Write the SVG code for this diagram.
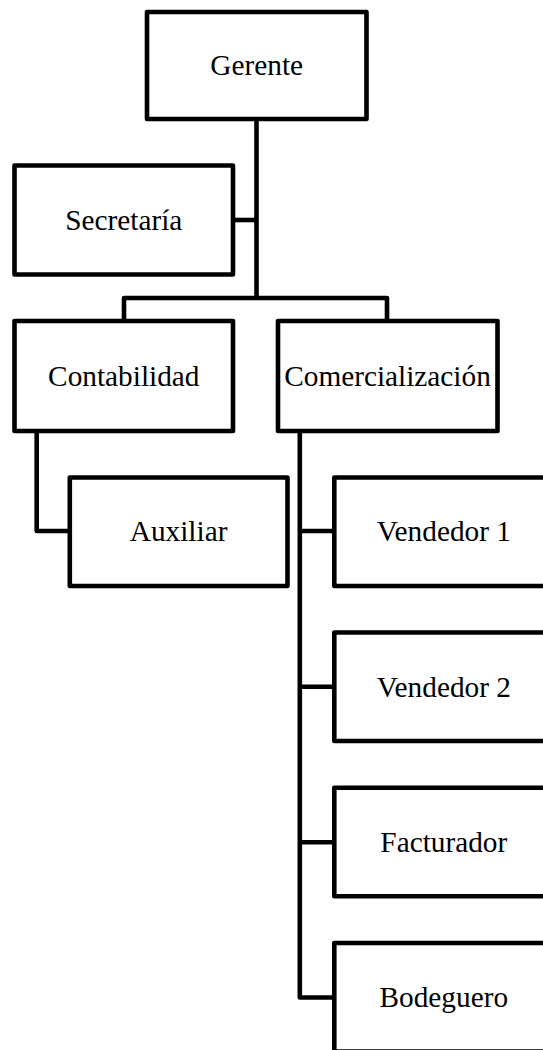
<svg xmlns="http://www.w3.org/2000/svg" width="543" height="1050" viewBox="0 0 543 1050">
<style>
.box{fill:#fff;stroke:#000;stroke-width:4.6;stroke-linejoin:round}
.lbl{font-family:"Liberation Serif","Times New Roman",serif;font-size:29.3px;fill:#000;text-anchor:middle}
.con{fill:none;stroke:#000;stroke-width:4.6;stroke-linejoin:round;stroke-linecap:butt}
</style>
<rect width="543" height="1050" fill="#fff"/>
<g id="connectors">
<path class="con" d="M256.5 119 V298"/>
<path class="con" d="M233 220 H256.5"/>
<path class="con" d="M124 321 V298 H387 V321"/>
<path class="con" d="M36.7 431 V531 H69.8"/>
<path class="con" d="M299.8 431 V997.5 H334.3"/>
<path class="con" d="M299.8 531 H334.3"/>
<path class="con" d="M299.8 686.8 H334.3"/>
<path class="con" d="M299.8 842.3 H334.3"/>
</g>
<g id="gerente">
<rect class="box" x="147" y="12" width="219.5" height="107"/>
<text class="lbl" x="256.7" y="74.5">Gerente</text>
</g>
<g id="secretaria">
<rect class="box" x="14.5" y="165.5" width="218.5" height="109"/>
<text class="lbl" x="123.8" y="230">Secretaría</text>
</g>
<g id="contabilidad">
<rect class="box" x="14.5" y="321" width="218.5" height="110"/>
<text class="lbl" x="123.8" y="385.5">Contabilidad</text>
</g>
<g id="comercializacion">
<rect class="box" x="278" y="321" width="219.5" height="110"/>
<text class="lbl" x="387.5" y="385.5">Comercialización</text>
</g>
<g id="auxiliar">
<rect class="box" x="69.8" y="477.5" width="217.7" height="108.5"/>
<text class="lbl" x="178.6" y="541">Auxiliar</text>
</g>
<g id="vendedor1">
<rect class="box" x="334.3" y="477.5" width="219" height="108.5"/>
<text class="lbl" x="443.8" y="541">Vendedor 1</text>
</g>
<g id="vendedor2">
<rect class="box" x="334.3" y="632.5" width="219" height="108.5"/>
<text class="lbl" x="443.8" y="696.5">Vendedor 2</text>
</g>
<g id="facturador">
<rect class="box" x="334.3" y="787.8" width="219" height="108.5"/>
<text class="lbl" x="443.8" y="851.8">Facturador</text>
</g>
<g id="bodeguero">
<rect class="box" x="334.3" y="943" width="219" height="108.5"/>
<text class="lbl" x="443.8" y="1007.3">Bodeguero</text>
</g>
</svg>
